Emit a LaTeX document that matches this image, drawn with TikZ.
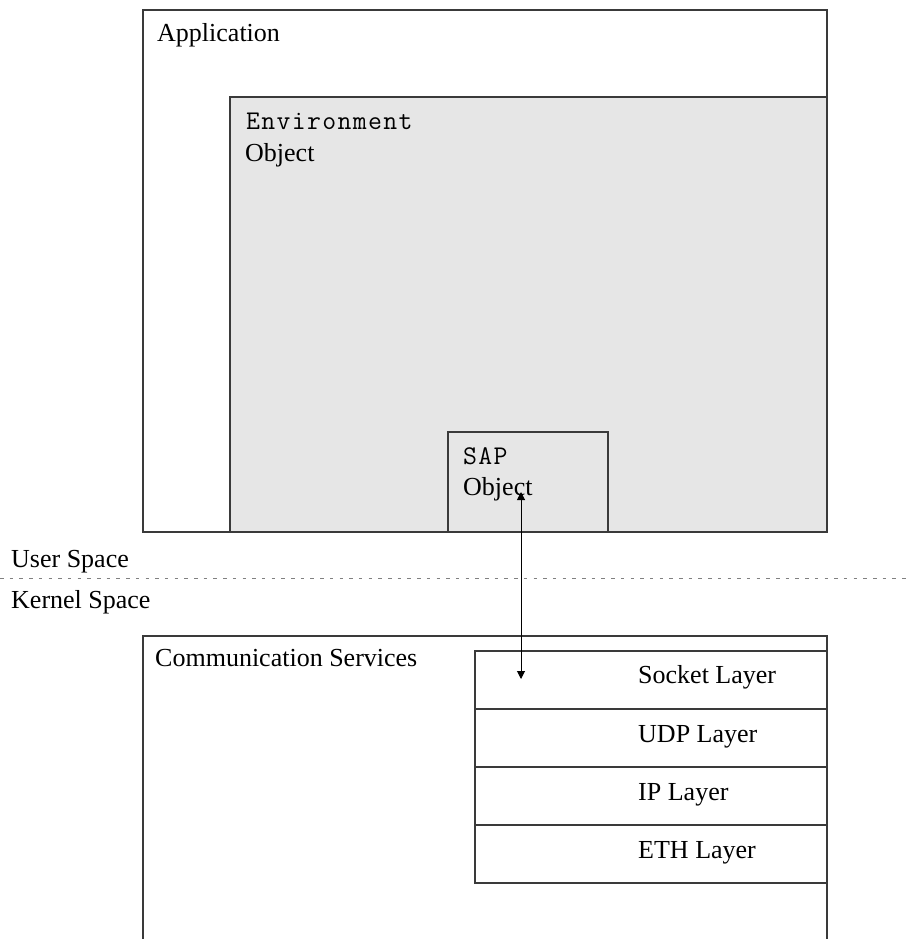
\documentclass[tikz,border=0pt]{standalone}
\usepackage{fontspec}
\setmainfont{Liberation Serif}
\newfontfamily\envmono[LetterSpace=5]{Latin Modern Mono}
\usetikzlibrary{arrows.meta}
\definecolor{edge}{HTML}{3A3A3A}
\definecolor{envfill}{HTML}{E6E6E6}
\begin{document}
\begin{tikzpicture}[x=1pt,y=-1pt,
  box/.style={draw=edge, line width=1.1pt, anchor=north west, inner sep=0pt, outer sep=0pt},
  lbl/.style={anchor=base west, inner sep=0pt, font=\fontsize{26}{30}\selectfont},
  mlbl/.style={anchor=base west, inner sep=0pt, font=\fontsize{27}{30}\selectfont\envmono},
  arr/.style={draw=black, line width=1pt, {Triangle[length=8pt,width=8pt]}-{Triangle[length=8pt,width=8pt]}}
]
\useasboundingbox (0,0) rectangle (907,939);
\clip (0,0) rectangle (907,939);
\fill[white] (0,0) rectangle (907,939);
% Application
\node[box, minimum width=684pt, minimum height=522pt] (app) at (143,10) {};
\node[lbl] (apptxt) at (157,42) {Application};
% Environment
\node[box, fill=envfill, minimum width=597pt, minimum height=435pt] (env) at (230,97) {};
\node[mlbl] (envtxt1) at (246,130) {Environment};
\node[lbl] (envtxt2) at (245,161) {Object};
% SAP
\node[box, fill=envfill, minimum width=160pt, minimum height=100pt] (sap) at (448,432) {};
\node[mlbl] (saptxt1) at (463,464) {SAP};
\node[lbl] (saptxt2) at (463,495) {Object};
% divider
\node[lbl] (user) at (11,567) {User Space};
\node[lbl] (kernel) at (11,608) {Kernel Space};
\coordinate (dl) at (0,578);
\coordinate (dr) at (907,578);
\draw[gray, line width=1pt, dash pattern=on 3.5pt off 6.2pt] (dl) -- (dr);
% Communication services
\node[box, minimum width=684pt, minimum height=330pt] (comm) at (143,636) {};
\node[lbl] (commtxt) at (155,666) {Communication Services};
% Layers
\node[box, minimum width=352pt, minimum height=58pt] (sock) at (475,651) {};
\node[box, minimum width=352pt, minimum height=58pt] (udp) at (475,709) {};
\node[box, minimum width=352pt, minimum height=58pt] (ip) at (475,767) {};
\node[box, minimum width=352pt, minimum height=58pt] (eth) at (475,825) {};
\node[lbl] (socktxt) at (638,683) {Socket Layer};
\node[lbl] (udptxt) at (638,742) {UDP Layer};
\node[lbl] (iptxt) at (638,800) {IP Layer};
\node[lbl] (ethtxt) at (638,858) {ETH Layer};
% connector
\coordinate (sapend) at (521,492);
\coordinate (sockend) at (521,679);
\draw[arr] (sapend) -- (sockend);
\end{tikzpicture}
\end{document}
